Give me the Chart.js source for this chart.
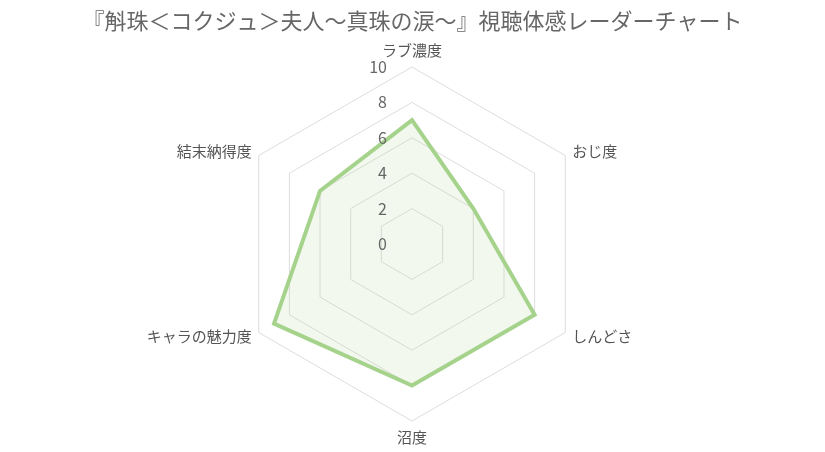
<!DOCTYPE html>
<html>
<head>
<meta charset="utf-8">
<script src="https://cdn.jsdelivr.net/npm/chart.js@4/dist/chart.umd.min.js"></script>
<style>
html,body{margin:0;padding:0;background:#fff;}
#wrap{width:825px;height:452px;position:relative;}
</style>
</head>
<body>
<div id="wrap"><canvas id="c" width="825" height="452"></canvas></div>
<script>
const titleText = '『斛珠＜コクジュ＞夫人～真珠の涙～』視聴体感レーダーチャート';
const categories = ['ラブ濃度', 'おじ度', 'しんどさ', '沼度', 'キャラの魅力度', '結末納得度'];
const seriesValues = [7, 4, 8, 8, 9, 6];
const tickValues = [0, 2, 4, 6, 8, 10];

const FONT = '"Noto Sans CJK JP", "Noto Sans", sans-serif';

const labelPlugin = {
  id: 'customLabels',
  afterDatasetsDraw(chart) {
    const s = chart.scales.r;
    const ctx = chart.ctx;
    ctx.save();
    // tick labels
    ctx.font = '16px ' + FONT;
    ctx.fillStyle = '#666';
    ctx.textAlign = 'right';
    ctx.textBaseline = 'middle';
    tickValues.forEach(v => {
      const d = s.getDistanceFromCenterForValue(v);
      ctx.fillText(String(v), s.xCenter - 25, s.yCenter - d);
    });
    // point labels
    ctx.font = '15px ' + FONT;
    ctx.fillStyle = '#555';
    const n = chart.data.labels.length;
    chart.data.labels.forEach((lab, i) => {
      const angle = (i / n) * 360;
      let align = 'center', base = 'middle', pad = 8;
      if (angle === 0) { base = 'bottom'; pad = 9; }
      else if (angle === 180) { base = 'top'; pad = 9; }
      else if (angle < 180) { align = 'left'; }
      else { align = 'right'; }
      const p = s.getPointPosition(i, s.drawingArea + pad);
      ctx.textAlign = align;
      ctx.textBaseline = base;
      ctx.fillText(lab, p.x, p.y);
    });
    ctx.restore();
  }
};

new Chart(document.getElementById('c'), {
  type: 'radar',
  data: {
    labels: categories,
    datasets: [{
      data: seriesValues,
      borderColor: '#a6d38c',
      backgroundColor: 'rgba(166,211,140,0.15)',
      borderWidth: 4,
      pointRadius: 0,
      fill: true
    }]
  },
  options: {
    responsive: false,
    animation: false,
    layout: { padding: { top: 2, bottom: 30, left: 0, right: 0 } },
    plugins: {
      legend: { display: false },
      tooltip: { enabled: false },
      title: {
        display: true,
        text: titleText,
        color: '#666',
        font: { family: FONT, size: 22, weight: 'normal' },
        padding: { top: 5, bottom: 34 }
      }
    },
    scales: {
      r: {
        min: 0,
        max: 10,
        ticks: { stepSize: 2, display: false },
        angleLines: { display: false },
        grid: { color: '#dddddd', lineWidth: 1 },
        pointLabels: { display: false }
      }
    }
  },
  plugins: [labelPlugin]
});
</script>
</body>
</html>
